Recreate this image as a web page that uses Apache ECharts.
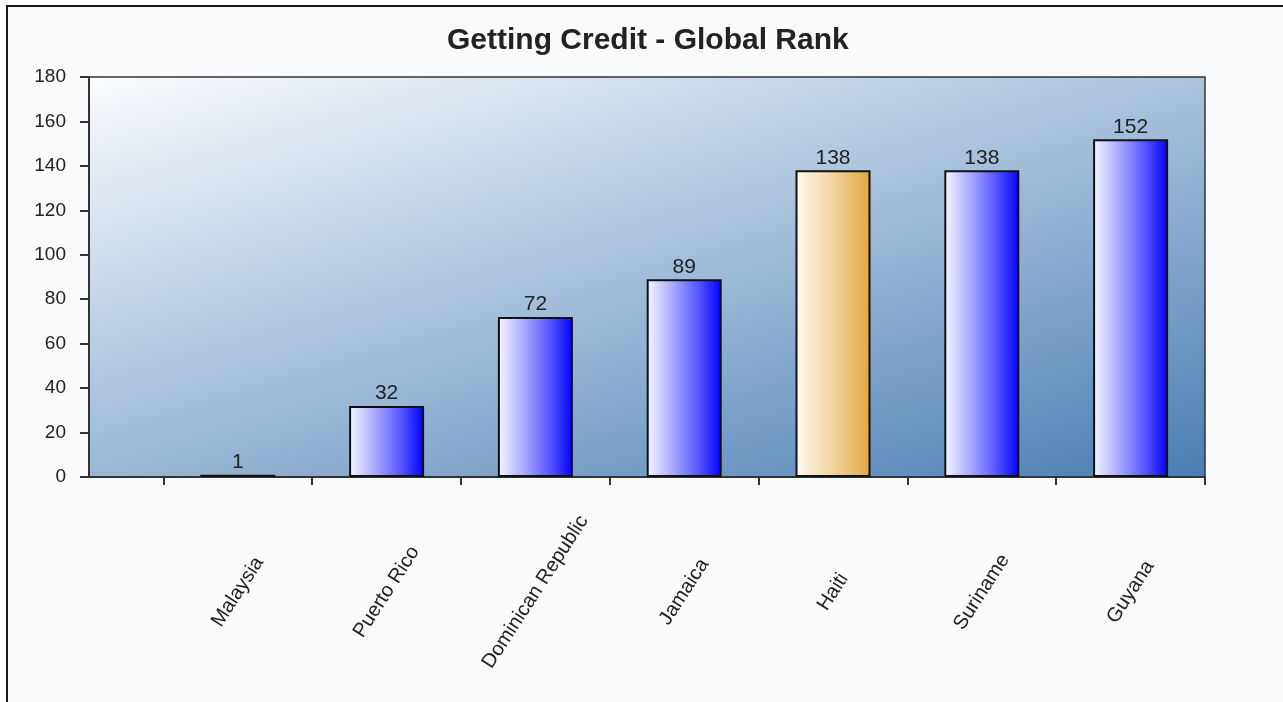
<!DOCTYPE html>
<html>
<head>
<meta charset="utf-8">
<title>Getting Credit - Global Rank</title>
<script src="https://cdn.jsdelivr.net/npm/echarts@6/dist/echarts.min.js"></script>
<style>
  html, body { margin: 0; padding: 0; background: #ffffff; }
  #chart { width: 1283px; height: 702px; }
</style>
</head>
<body>
<div id="chart"></div>
<script>
const chart = echarts.init(document.getElementById('chart'))

// 数据
const countries = ['Malaysia', 'Puerto Rico', 'Dominican Republic', 'Jamaica', 'Haiti', 'Suriname', 'Guyana']
const ranks = [1, 32, 72, 89, 138, 138, 152]
const highlight = 'Haiti'
const yTicks = [0, 20, 40, 60, 80, 100, 120, 140, 160, 180]

const font = 'Liberation Sans, Arial, sans-serif'

const blueBar = new echarts.graphic.LinearGradient(0, 0, 1, 0, [
  { offset: 0, color: '#f6f6ff' },
  { offset: 0.3, color: '#b4b4ff' },
  { offset: 0.7, color: '#5454ff' },
  { offset: 1, color: '#0000ff' },
])
const orangeBar = new echarts.graphic.LinearGradient(0, 0, 1, 0, [
  { offset: 0, color: '#fffaf2' },
  { offset: 0.5, color: '#f1d49e' },
  { offset: 1, color: '#e2a640' },
])

const option = {
  animation: false,
  backgroundColor: '#ffffff',
  graphic: [
    {
      type: 'rect',
      z: -10,
      silent: true,
      shape: { x: 7, y: 6, width: 1300, height: 720 },
      style: { fill: '#f9fafc', stroke: '#1a1a1a', lineWidth: 2 },
    },
  ],
  title: {
    text: 'Getting Credit - Global Rank',
    left: 447,
    top: 26,
    padding: 0,
    textStyle: { fontFamily: font, fontSize: 30, fontWeight: 'bold', color: '#222' },
  },
  grid: {
    left: 89,
    top: 77,
    width: 1116,
    height: 400,
    show: true,
    borderColor: '#333',
    borderWidth: 1.5,
    // 斜向渐变背景，色带从左下往右上
    backgroundColor: new echarts.graphic.LinearGradient(0, 0, 0.18, 1.68, [
      { offset: 0, color: '#fbfcfe' },
      { offset: 1, color: '#4a7eb4' },
    ]),
  },
  xAxis: {
    type: 'value',
    min: -1,
    max: 6.5,
    splitLine: { show: false },
    axisLine: { show: true, onZero: false, lineStyle: { color: '#333', width: 2 } },
    axisTick: {
      show: true,
      length: 8,
      lineStyle: { color: '#333', width: 2 },
      customValues: [-0.5, 0.5, 1.5, 2.5, 3.5, 4.5, 5.5, 6.5],
    },
    axisLabel: {
      customValues: countries.map((c, i) => i),
      formatter: (v) => countries[Math.round(v)] || '',
      rotate: 57,
      align: 'center',
      verticalAlign: 'middle',
      margin: 115,
      fontFamily: font,
      fontSize: 20,
      color: '#222',
    },
  },
  yAxis: {
    type: 'value',
    min: yTicks[0],
    max: yTicks[yTicks.length - 1],
    interval: 20,
    splitLine: { show: false },
    axisLine: { show: true, onZero: false, lineStyle: { color: '#333', width: 2 } },
    axisTick: { show: true, length: 9, lineStyle: { color: '#333', width: 2 } },
    axisLabel: { fontFamily: font, fontSize: 19, color: '#222', margin: 23 },
  },
  series: [
    {
      type: 'bar',
      barWidth: 75,
      data: countries.map((c, i) => ({
        value: [i, ranks[i]],
        itemStyle: { color: c === highlight ? orangeBar : blueBar },
      })),
      itemStyle: { borderColor: '#111', borderWidth: 2 },
      label: {
        show: true,
        position: 'top',
        distance: 2,
        formatter: (p) => p.value[1],
        fontFamily: font,
        fontSize: 21,
        color: '#222',
      },
    },
  ],
}

chart.setOption(option)
</script>
</body>
</html>
